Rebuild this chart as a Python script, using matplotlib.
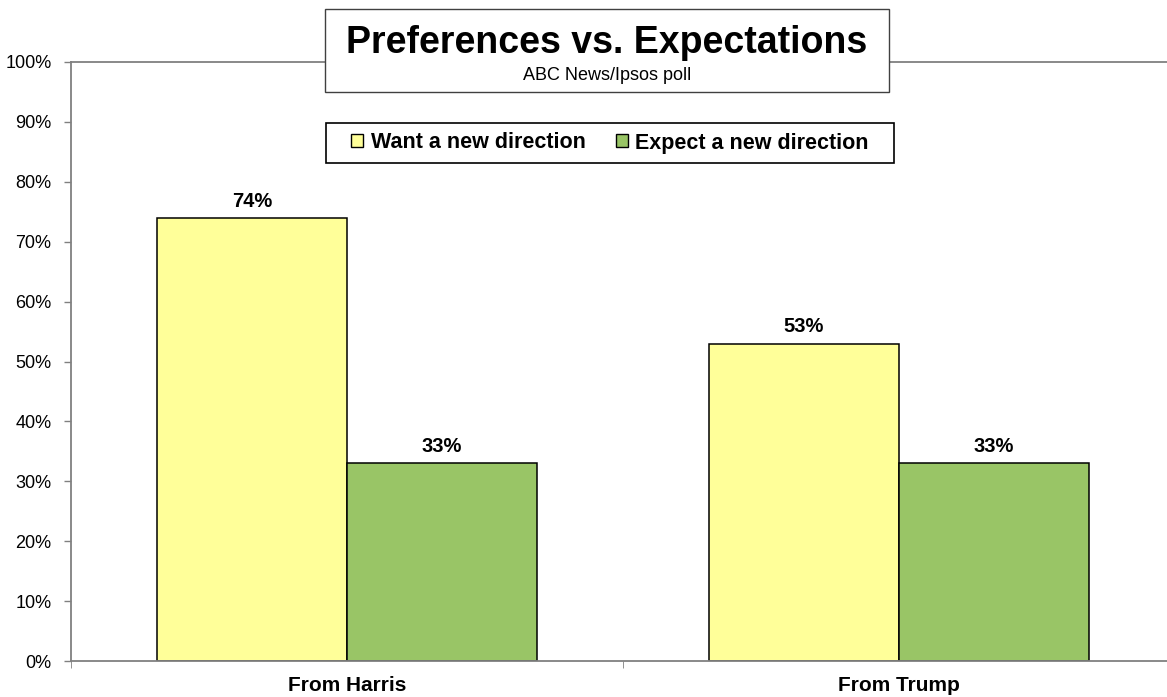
import numpy as np
import matplotlib.pyplot as plt
import matplotlib.patches as patches

categories = ["From Harris", "From Trump"]
want = [74, 53]
expect = [33, 33]
series_names = ["Want a new direction", "Expect a new direction"]
yticks = [0, 10, 20, 30, 40, 50, 60, 70, 80, 90, 100]

plt.rcParams['font.family'] = ['Liberation Sans', 'DejaVu Sans']

W, H = 1167, 697
fig = plt.figure(figsize=(W/100, H/100), dpi=100)
# plot area runs past the right edge of the picture, as in the original
ax = fig.add_axes([71/W, 1 - 661/H, (1175-71)/W, (661-62)/H])

x = np.arange(len(categories))
w = 190/552
ax.bar(x - w/2, want, w, color='#FFFF99', edgecolor='black', linewidth=1.1, label=series_names[0])
ax.bar(x + w/2, expect, w, color='#99C566', edgecolor='black', linewidth=1.1, label=series_names[1])

for xi, v in zip(x - w/2, want):
    ax.text(xi, v + 1.85, f"{v}%", ha='center', va='baseline', fontsize=14.5, fontweight='bold')
for xi, v in zip(x + w/2, expect):
    ax.text(xi, v + 1.85, f"{v}%", ha='center', va='baseline', fontsize=14.5, fontweight='bold')

ax.set_xlim(-0.5, 1.5)
ax.set_ylim(0, 100)
ax.set_yticks(yticks)
ax.set_yticklabels([f"{t}%" for t in yticks], fontsize=13)
ax.set_xticks(x)
ax.set_xticklabels(categories, fontsize=15, fontweight='bold')
ax.tick_params(axis='x', length=0, pad=11)
ax.set_xticks([-0.5, 0.5], minor=True)
ax.tick_params(axis='x', which='minor', length=5, color='#808080', direction='out')
ax.tick_params(axis='y', length=5, color='#808080', width=1, pad=9)
for s in ['left', 'bottom', 'top']:
    ax.spines[s].set_color('#808080')
    ax.spines[s].set_linewidth(1.3)
ax.spines['right'].set_visible(False)

# title box
tb = patches.Rectangle((325/W, 1 - 92/H), (889-325)/W, (92-9)/H, transform=fig.transFigure,
                       facecolor='white', edgecolor='#404040', linewidth=1, zorder=5)
fig.patches.append(tb)
fig.text(607/W, 1 - 53/H, "Preferences vs. Expectations", ha='center', va='baseline',
         fontsize=27, fontweight='bold', zorder=6)
fig.text(607/W, 1 - 80/H, "ABC News/Ipsos poll", ha='center', va='baseline', fontsize=13, zorder=6)

# legend box
lb = patches.Rectangle((326/W, 1 - 163/H), (894-326)/W, (163-123)/H, transform=fig.transFigure,
                       facecolor='white', edgecolor='black', linewidth=1.2, zorder=5)
fig.patches.append(lb)
handles, labels = ax.get_legend_handles_labels()
leg = fig.legend(handles, labels, loc='center', bbox_to_anchor=(610/W, 1 - 143/H),
                 bbox_transform=fig.transFigure,
                 ncol=2, prop={'weight': 'bold', 'size': 15.5}, frameon=False,
                 handlelength=0.55, handleheight=0.55, handletextpad=0.35,
                 columnspacing=1.4, borderpad=0.0)
leg.set_zorder(8)
for h in leg.legend_handles:
    h.set_linewidth(1.0)

plt.savefig("out.png", dpi=100)
